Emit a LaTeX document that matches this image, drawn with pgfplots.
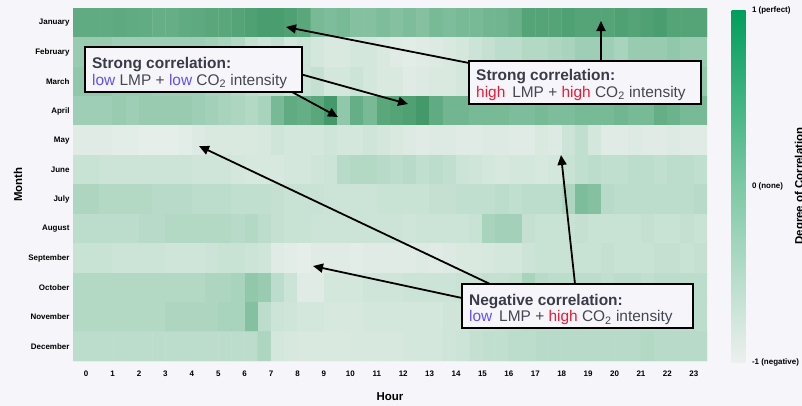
\documentclass[border=0pt]{standalone}
\usepackage{fontspec}
\setmainfont{Liberation Sans}
\usepackage{pgfplots}
\pgfplotsset{compat=1.18}
\usetikzlibrary{arrows.meta}
\definecolor{bg}{RGB}{246,246,250}
\definecolor{lowc}{RGB}{95,80,250}
\definecolor{highc}{RGB}{235,25,55}
\definecolor{headc}{RGB}{58,58,72}
\definecolor{txtc}{RGB}{70,70,82}
\begin{document}
\begin{tikzpicture}
\fill[bg] (0,0) rectangle (802bp,-406bp);
\useasboundingbox (0,0) rectangle (802bp,-406bp);
\begin{axis}[
  at={(73bp,-361bp)}, anchor=south west,
  scale only axis, width=634bp, height=353bp,
  xmin=-0.5, xmax=23.5, ymin=-0.5, ymax=11.5, y dir=reverse,
  axis line style={draw=none}, major tick length=0pt,
  xtick={0,...,23}, ytick={0,...,11},
  yticklabels={January,February,March,April,May,June,July,August,September,October,November,December},
  ticklabel style={font=\bfseries\fontsize{8}{9.6}\selectfont},
  xticklabel style={yshift=-6bp},
  /pgf/number format/assume math mode=true,
  xlabel={Hour}, ylabel={Month},
  label style={font=\bfseries\fontsize{11.5}{13}\selectfont},
  xlabel style={at={(axis description cs:0.5,-0.102)}, anchor=center},
  ylabel style={at={(axis description cs:-0.0867,0.5)}, anchor=center},
  colormap={heat}{rgb255(0cm)=(236,240,238) rgb255(4cm)=(212,231,220) rgb255(7cm)=(189,221,204) rgb255(10cm)=(158,206,181) rgb255(13cm)=(120,186,150) rgb255(15.5cm)=(90,167,124) rgb255(18cm)=(62,150,102) rgb255(20cm)=(45,140,90)},
  point meta min=-1, point meta max=1,
]
\addplot[matrix plot*, mesh/cols=48, point meta=explicit]
 table[header=false, row sep=\\, x expr={(\coordindex-48*floor((\coordindex+0.5)/48))*0.5-0.25}, y expr={floor((\coordindex+0.5)/48)}, meta index=0] {
.50\\.50\\.50\\.52\\.50\\.48\\.45\\.45\\.50\\.52\\.55\\.55\\.60\\.65\\.70\\.70\\.65\\.55\\.30\\.25\\.30\\.20\\.20\\.25\\.20\\.25\\.20\\.30\\.25\\.30\\.30\\.35\\.37\\.42\\.60\\.60\\.60\\.65\\.60\\.60\\.60\\.65\\.60\\.65\\.70\\.60\\.60\\.60\\
.05\\.05\\.05\\0\\0\\0\\0\\0\\0\\0\\-.05\\-.1\\-.2\\-.4\\-.5\\-.4\\-.6\\-.5\\-.6\\-.7\\-.7\\-.6\\-.6\\-.7\\-.8\\-.85\\-.8\\-.75\\-.7\\-.6\\-.5\\-.4\\-.3\\-.3\\-.2\\-.2\\-.15\\-.1\\0\\0\\0\\-.1\\.05\\.05\\.05\\.1\\.05\\.05\\
.1\\.1\\.1\\.05\\.05\\.05\\0\\0\\0\\0\\-.1\\-.1\\-.2\\-.3\\-.4\\-.4\\-.5\\-.5\\-.4\\-.6\\-.6\\-.5\\-.6\\-.7\\-.7\\-.8\\-.75\\-.7\\-.7\\-.6\\-.5\\-.4\\-.3\\-.2\\-.1\\0\\0\\.05\\.05\\.05\\.1\\.1\\.1\\.1\\.1\\.15\\.1\\.1\\
0\\0\\0\\.05\\0\\.05\\.05\\.05\\.05\\0\\-.05\\-.1\\-.15\\-.2\\-.1\\.3\\.5\\.45\\.55\\.75\\.1\\.45\\.3\\.55\\.6\\.65\\.75\\.5\\.35\\.35\\.3\\.3\\.3\\.25\\.25\\.3\\.25\\.25\\.3\\.3\\.3\\.35\\.3\\.3\\.45\\.4\\.3\\.3\\
-.8\\-.8\\-.8\\-.85\\-.85\\-.9\\-.9\\-.9\\-.85\\-.75\\-.7\\-.7\\-.7\\-.7\\-.65\\-.55\\-.6\\-.6\\-.6\\-.55\\-.6\\-.6\\-.55\\-.6\\-.7\\-.75\\-.8\\-.75\\-.75\\-.8\\-.8\\-.75\\-.75\\-.8\\-.8\\-.7\\-.75\\-.5\\-.35\\-.6\\-.8\\-.8\\-.75\\-.8\\-.8\\-.75\\-.8\\-.8\\
-.45\\-.45\\-.5\\-.5\\-.5\\-.5\\-.5\\-.5\\-.5\\-.55\\-.55\\-.55\\-.6\\-.65\\-.65\\-.65\\-.6\\-.6\\-.55\\-.5\\-.25\\-.2\\-.2\\-.25\\-.3\\-.25\\-.35\\-.3\\-.35\\-.5\\-.55\\-.6\\-.65\\-.6\\-.6\\-.65\\-.6\\-.45\\-.35\\-.3\\-.35\\-.35\\-.3\\-.3\\-.35\\-.3\\-.3\\-.35\\
-.15\\-.15\\-.2\\-.2\\-.2\\-.2\\-.25\\-.25\\-.25\\-.3\\-.3\\-.3\\-.35\\-.35\\-.35\\-.4\\-.45\\-.45\\-.45\\-.5\\-.5\\-.5\\-.5\\-.45\\-.45\\-.45\\-.45\\-.4\\-.4\\-.35\\-.35\\-.35\\-.3\\-.35\\-.3\\-.3\\-.3\\-.15\\.25\\.2\\-.25\\-.3\\-.3\\-.3\\-.3\\-.3\\-.3\\-.25\\
-.3\\-.3\\-.3\\-.3\\-.3\\-.25\\-.25\\-.2\\-.2\\-.2\\-.2\\-.2\\-.25\\-.2\\-.3\\-.4\\-.45\\-.45\\-.5\\-.5\\-.5\\-.5\\-.5\\-.5\\-.5\\-.55\\-.5\\-.5\\-.5\\-.5\\-.45\\-.1\\-.05\\-.05\\-.4\\-.45\\-.45\\-.45\\-.4\\-.45\\-.45\\-.45\\-.45\\-.4\\-.45\\-.45\\-.4\\-.45\\
-.45\\-.45\\-.45\\-.5\\-.5\\-.5\\-.5\\-.55\\-.55\\-.55\\-.5\\-.45\\-.45\\-.5\\-.55\\-.8\\-.85\\-.9\\-.8\\-.8\\-.8\\-.85\\-.8\\-.8\\-.8\\-.8\\-.75\\-.8\\-.75\\-.7\\-.7\\-.65\\-.6\\-.6\\-.5\\-.45\\-.45\\-.45\\-.45\\-.45\\-.4\\-.45\\-.45\\-.45\\-.4\\-.4\\-.45\\-.4\\
-.2\\-.2\\-.2\\-.2\\-.2\\-.2\\-.2\\-.2\\-.2\\-.2\\-.15\\-.15\\-.1\\.1\\.05\\-.3\\-.5\\-.8\\-.8\\-.6\\-.6\\-.6\\-.55\\-.55\\-.55\\-.5\\-.5\\-.5\\-.5\\-.45\\-.45\\-.4\\-.4\\-.35\\-.1\\-.25\\-.3\\-.3\\-.3\\-.3\\-.35\\-.3\\-.3\\-.35\\-.3\\-.3\\-.3\\-.3\\
-.2\\-.2\\-.2\\-.2\\-.2\\-.2\\-.2\\-.15\\-.15\\-.15\\-.15\\-.1\\-.1\\.2\\-.3\\-.5\\-.55\\-.6\\-.6\\-.65\\-.65\\-.65\\-.6\\-.6\\-.6\\-.6\\-.6\\-.6\\-.55\\-.55\\-.5\\-.45\\-.4\\-.35\\-.3\\-.3\\-.3\\-.3\\-.3\\-.3\\-.3\\-.3\\-.3\\-.3\\-.3\\-.3\\-.3\\-.3\\
-.3\\-.3\\-.3\\-.3\\-.3\\-.3\\-.3\\-.3\\-.3\\-.3\\-.3\\-.3\\-.3\\-.3\\-.15\\-.6\\-.65\\-.7\\-.7\\-.7\\-.7\\-.65\\-.65\\-.65\\-.65\\-.6\\-.6\\-.6\\-.55\\-.5\\-.4\\-.35\\-.35\\-.3\\-.3\\-.25\\-.25\\-.25\\-.25\\-.25\\-.25\\-.25\\-.25\\-.2\\-.25\\-.25\\-.25\\-.25\\
};
\end{axis}
\begin{axis}[
  at={(723bp,-362bp)}, anchor=south west, scale only axis, width=17bp, height=352bp, hide axis,
  xmin=0, xmax=1, ymin=0, ymax=1,
  colormap={cb}{rgb255=(236,240,238) rgb255=(125,200,165) rgb255=(0,158,92)},
  colorbar, point meta min=-1, point meta max=1,
  colorbar style={at={(parent axis.south west)}, anchor=south west, scale only axis, width=17bp, height=352bp,
    axis line style={draw=none}, major tick length=0pt, ytick={-1,0,1},
    yticklabels={-1 (negative),0 (none),1 (perfect)},
    yticklabel style={font=\bfseries\fontsize{8}{9.6}\selectfont}},
]
\addplot[draw=none] coordinates {(0.5,0.5)};
\end{axis}
\node[rotate=90, anchor=north, inner sep=0pt, font=\bfseries\fontsize{11.5}{13}\selectfont] at (794.5bp,-186bp) {Degree of Correlation};
% arrows
\begin{scope}[line width=1.8bp, -{Triangle[length=10bp,width=9bp]}]
\draw (300bp,-74bp) -- (408bp,-104bp);
\draw (292bp,-92bp) -- (338bp,-117bp);
\draw (469bp,-63bp) -- (286bp,-27bp);
\draw (601bp,-61bp) -- (601bp,-21bp);
\draw (490bp,-284bp) -- (199bp,-146bp);
\draw (462bp,-298bp) -- (313bp,-266bp);
\draw (575bp,-284bp) -- (561bp,-155bp);
\end{scope}
% boxes
\draw[line width=2.5bp, fill=bg] (85bp,-47bp) rectangle (302bp,-92bp);
\node[anchor=base west, inner sep=0pt, font=\bfseries\fontsize{15.5}{18}\selectfont, text=headc] at (92bp,-68.5bp) {Strong correlation:};
\node[anchor=base west, inner sep=0pt, font=\fontsize{15.5}{18}\selectfont, text=txtc] at (92bp,-85bp) {\textcolor{lowc}{low} LMP + \textcolor{lowc}{low} CO\textsubscript{2} intensity};
\draw[line width=2.5bp, fill=bg] (469bp,-61bp) rectangle (701bp,-104bp);
\node[anchor=base west, inner sep=0pt, font=\bfseries\fontsize{15.5}{18}\selectfont, text=headc] at (476bp,-80.5bp) {Strong correlation:};
\node[anchor=base west, inner sep=0pt, font=\fontsize{15.5}{18}\selectfont, text=txtc] at (476bp,-97bp) {\textcolor{highc}{high}\, LMP + \textcolor{highc}{high} CO\textsubscript{2} intensity};
\draw[line width=2.5bp, fill=bg] (462bp,-284bp) rectangle (693bp,-328bp);
\node[anchor=base west, inner sep=0pt, font=\bfseries\fontsize{15.5}{18}\selectfont, text=headc] at (469bp,-305bp) {Negative correlation:};
\node[anchor=base west, inner sep=0pt, font=\fontsize{15.5}{18}\selectfont, text=txtc] at (469bp,-321.5bp) {\textcolor{lowc}{low}\, LMP + \textcolor{highc}{high} CO\textsubscript{2} intensity};
\end{tikzpicture}
\end{document}
